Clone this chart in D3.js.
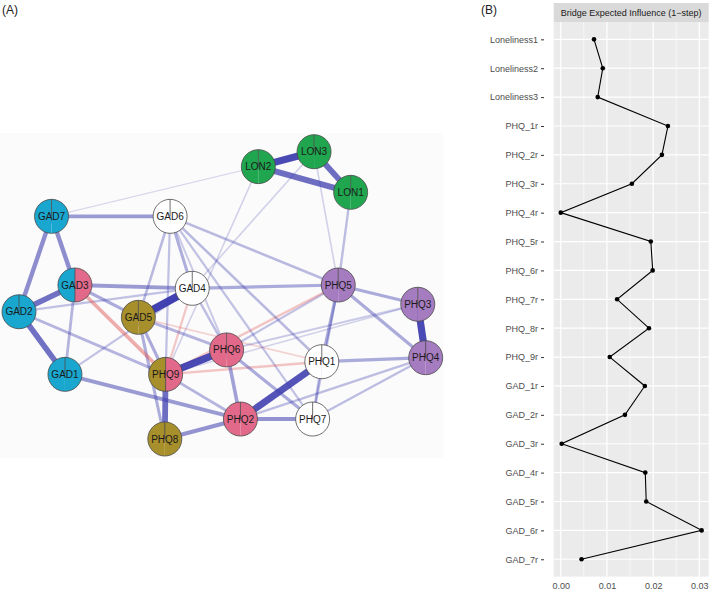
<!DOCTYPE html>
<html lang="en">
<head>
	<meta charset="utf-8">
	<title>network and bridge EI</title>
	<script src="https://cdn.jsdelivr.net/npm/d3@7"></script>
	<style>
		body{margin:0;background:#fff;}
		svg{display:block;font-family:"Liberation Sans",Arial,sans-serif;}
	</style>
</head>
<body>
<div id="chart"></div>
<script>
// network nodes (layout coords -1..1, y up)
var nodeNames = ["GAD1","GAD2","GAD3","GAD4","GAD5","GAD6","GAD7","PHQ1","PHQ2","PHQ3","PHQ4","PHQ5","PHQ6","PHQ7","PHQ8","PHQ9","LON1","LON2","LON3"]
var nodeX = [-0.774,-1,-0.725,-0.148,-0.413,-0.257,-0.84,0.489,0.089,0.961,1,0.57,0.021,0.444,-0.283,-0.279,0.631,0.177,0.451]
var nodeY = [-0.55,-0.114,0.072,0.049,-0.153,0.55,0.55,-0.462,-0.861,-0.062,-0.434,0.072,-0.38,-0.861,-1,-0.55,0.717,0.896,1]
var groupLeft  = ["C1","C1","C1","none","C5","none","C1","none","C4","C3","C3","C3","C4","none","C5","C5","C2","C2","C2"]
var groupRight = ["C1","C1","C4","none","C5","none","C1","none","C4","C3","C3","C3","C4","none","C5","C4","C2","C2","C2"]

// edges
var edgeFrom = ["LON2","LON2","LON3","LON2","LON2","LON3","LON3","LON1","GAD7","GAD7","GAD7","GAD3","GAD3","GAD3","GAD3","GAD3","GAD2","GAD2","GAD2","GAD1","GAD1","GAD6","GAD6","GAD6","GAD6","GAD6","GAD6","GAD6","GAD4","GAD4","GAD4","GAD4","GAD5","GAD5","GAD5","GAD5","PHQ9","PHQ9","PHQ9","PHQ9","PHQ9","PHQ9","PHQ8","PHQ6","PHQ6","PHQ6","PHQ6","PHQ2","PHQ2","PHQ2","PHQ7","PHQ1","PHQ1","PHQ1","PHQ7","PHQ5","PHQ5","PHQ3"]
var edgeTo   = ["LON3","LON1","LON1","GAD7","PHQ9","GAD4","PHQ5","PHQ5","GAD6","GAD3","GAD2","GAD2","GAD4","GAD5","GAD1","PHQ9","GAD1","GAD4","PHQ9","PHQ2","GAD4","GAD4","GAD5","PHQ9","PHQ6","PHQ5","PHQ1","PHQ7","GAD5","PHQ5","PHQ9","PHQ6","PHQ9","PHQ8","PHQ6","PHQ1","PHQ6","PHQ8","PHQ2","PHQ1","PHQ5","PHQ3","PHQ2","PHQ2","PHQ7","PHQ5","PHQ3","PHQ1","PHQ7","PHQ4","PHQ4","PHQ4","PHQ7","PHQ5","PHQ5","PHQ3","PHQ4","PHQ4"]
var edgeWeight = [0.8,0.62,0.62,0.06,0.1,0.1,0.1,0.2,0.38,0.45,0.45,0.6,0.38,0.3,0.25,-0.35,0.6,0.18,0.25,0.38,0.18,0.28,0.22,0.18,0.14,0.22,0.22,0.18,0.85,0.3,-0.18,0.2,0.3,0.28,0.25,-0.12,0.8,0.62,0.25,-0.2,-0.2,0.1,0.42,0.35,0.3,0.18,0.14,0.75,0.42,0.2,0.2,0.3,0.2,0.3,0.2,0.3,0.3,0.8]

// bridge expected influence
var eiLabels = ["Loneliness1","Loneliness2","Loneliness3","PHQ_1r","PHQ_2r","PHQ_3r","PHQ_4r","PHQ_5r","PHQ_6r","PHQ_7r","PHQ_8r","PHQ_9r","GAD_1r","GAD_2r","GAD_3r","GAD_4r","GAD_5r","GAD_6r","GAD_7r"]
var eiValues = [0.0072,0.0091,0.0080,0.0232,0.0219,0.0154,0.0,0.0195,0.0199,0.0122,0.0191,0.0106,0.0182,0.0139,0.0002,0.0183,0.0185,0.0305,0.0045]
var xTicks = [0,0.01,0.02,0.03]
var xMinor = [0.005,0.015,0.025]

var groupColor = {C1:"#19A7D0",C2:"#20A64F",C3:"#A67CC0",C4:"#E2698A",C5:"#A78F2B",none:"#FFFFFF"}

var W = 709, H = 592

var svg = d3.select("#chart").append("svg")
	.attr("width",W)
	.attr("height",H)

// ---------- panel A ----------
svg.append("text").attr("x",2).attr("y",13.5).attr("font-size",12).attr("fill","#222").text("(A)")

svg.append("rect")
	.attr("x",0).attr("y",133).attr("width",443).attr("height",325)
	.attr("fill","#FBFBFB")

var nx = d3.scaleLinear().domain([-1,1]).range([19,425.7])
var ny = d3.scaleLinear().domain([-1,1]).range([439,151.7])
var r = 17

var nodes = nodeNames.map(function(n,i){
	return {name:n,x:nx(nodeX[i]),y:ny(nodeY[i]),gl:groupLeft[i],gr:groupRight[i]}
})
var byName = {}
nodes.forEach(function(d){ byName[d.name] = d })

var edges = edgeFrom.map(function(f,i){
	return {s:byName[f],t:byName[edgeTo[i]],w:edgeWeight[i]}
}).sort(function(a,b){ return Math.abs(a.w)-Math.abs(b.w) })

svg.append("g").selectAll("line")
	.data(edges)
	.enter()
	.append("line")
	.attr("x1",function(d){ return d.s.x })
	.attr("y1",function(d){ return d.s.y })
	.attr("x2",function(d){ return d.t.x })
	.attr("y2",function(d){ return d.t.y })
	.attr("stroke",function(d){ return d.w>0 ? "#3B3BAE" : "#E05050" })
	.attr("stroke-opacity",function(d){ return Math.min(1,0.12+Math.abs(d.w)*1.0) })
	.attr("stroke-width",function(d){ return 0.8+Math.abs(d.w)*8 })

var arc = d3.arc().innerRadius(0).outerRadius(r)

var ng = svg.append("g").selectAll("g")
	.data(nodes)
	.enter()
	.append("g")
	.attr("transform",function(d){ return "translate("+d.x+","+d.y+")" })

ng.append("path")
	.attr("d",arc({startAngle:0,endAngle:Math.PI}))
	.attr("fill",function(d){ return groupColor[d.gr] })
ng.append("path")
	.attr("d",arc({startAngle:Math.PI,endAngle:2*Math.PI}))
	.attr("fill",function(d){ return groupColor[d.gl] })
ng.append("circle")
	.attr("r",r)
	.attr("fill","none")
	.attr("stroke","#4a4a4a")
	.attr("stroke-width",0.8)
ng.append("line")
	.attr("x1",0)
	.attr("y1",function(d){ return d.gl==d.gr ? 0 : r })
	.attr("x2",0)
	.attr("y2",-r)
	.attr("stroke","#4a4a4a")
	.attr("stroke-width",0.8)
ng.append("text")
	.attr("text-anchor","middle")
	.attr("dy","0.35em")
	.attr("font-size",10)
	.attr("fill","#1a1a1a")
	.text(function(d){ return d.name })

// ---------- panel B ----------
svg.append("text").attr("x",481).attr("y",13.5).attr("font-size",12).attr("fill","#222").text("(B)")

var pl = 553.7, pr = 708.7, pt = 22, pb = 576.6

var ext = d3.extent(eiValues)
var pad = (ext[1]-ext[0])*0.05
var x = d3.scaleLinear().domain([ext[0]-pad,ext[1]+pad]).range([pl,pr])
var y = d3.scalePoint().domain(eiLabels).range([pt,pb]).padding(0.6)

// strip
svg.append("rect")
	.attr("x",pl).attr("y",3).attr("width",pr-pl).attr("height",pt-3)
	.attr("fill","#D9D9D9")
svg.append("text")
	.attr("x",(pl+pr)/2).attr("y",15.8)
	.attr("text-anchor","middle")
	.attr("font-size",9)
	.attr("fill","#1A1A1A")
	.text("Bridge Expected Influence (1\u2212step)")

svg.append("rect")
	.attr("x",pl).attr("y",pt).attr("width",pr-pl).attr("height",pb-pt)
	.attr("fill","#EBEBEB")

svg.append("g").selectAll("line")
	.data(xMinor)
	.enter()
	.append("line")
	.attr("x1",function(d){ return x(d) }).attr("x2",function(d){ return x(d) })
	.attr("y1",pt).attr("y2",pb)
	.attr("stroke","#fff").attr("stroke-width",0.6)

svg.append("g").selectAll("line")
	.data(xTicks)
	.enter()
	.append("line")
	.attr("x1",function(d){ return x(d) }).attr("x2",function(d){ return x(d) })
	.attr("y1",pt).attr("y2",pb)
	.attr("stroke","#fff").attr("stroke-width",1.2)

svg.append("g").selectAll("line")
	.data(eiLabels)
	.enter()
	.append("line")
	.attr("x1",pl).attr("x2",pr)
	.attr("y1",function(d){ return y(d) }).attr("y2",function(d){ return y(d) })
	.attr("stroke","#fff").attr("stroke-width",1.2)

var yAxis = d3.axisLeft(y)
var gy = svg.append("g")
	.attr("transform","translate(554,0)")
	.call(yAxis)
gy.select(".domain").remove()
gy.selectAll(".tick line").attr("x1",-10).attr("x2",-13).attr("stroke","#333")
gy.selectAll(".tick text").attr("x",-16).attr("font-size",9).attr("fill","#4D4D4D").attr("font-family","Liberation Sans, Arial, sans-serif")

var xAxis = d3.axisBottom(x).tickValues(xTicks).tickFormat(d3.format(".2f")).tickSize(0).tickPadding(6)
var gx = svg.append("g")
	.attr("transform","translate(0,"+pb+")")
	.call(xAxis)
gx.select(".domain").remove()
gx.selectAll("text").attr("font-size",9).attr("fill","#4D4D4D").attr("font-family","Liberation Sans, Arial, sans-serif")

var line = d3.line()
	.x(function(d){ return x(d) })
	.y(function(d,i){ return y(eiLabels[i]) })

svg.append("path")
	.datum(eiValues)
	.attr("d",line)
	.attr("fill","none")
	.attr("stroke","#000")
	.attr("stroke-width",1.1)

svg.append("g").selectAll("circle")
	.data(eiValues)
	.enter()
	.append("circle")
	.attr("cx",function(d){ return x(d) })
	.attr("cy",function(d,i){ return y(eiLabels[i]) })
	.attr("r",2.3)
	.attr("fill","#000")
</script>
</body>
</html>
